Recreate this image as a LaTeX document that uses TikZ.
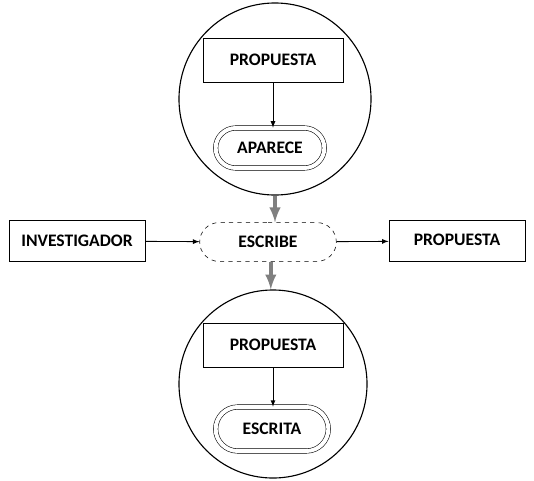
\documentclass[tikz,border=0pt]{standalone}
\usepackage{fontspec}
\setmainfont{Carlito}
\usetikzlibrary{positioning, arrows, shapes.misc}

\begin{document}
\begin{tikzpicture}[x=0.025cm, y=-0.025cm]
\tikzstyle{circ}=[circle, thick, draw=black, inner sep=0pt]
\tikzstyle{sqr}=[rectangle, draw=black, semithick, minimum width=3.5cm, minimum height=1.1cm, font=\fontsize{12.5}{14}\selectfont\bfseries]
\tikzstyle{stad}=[rounded rectangle, draw=black, double, double distance=2.8pt, minimum width=2.95cm, minimum height=1.0cm, font=\fontsize{12.5}{14}\selectfont\bfseries]
\tikzstyle{proc}=[rounded rectangle, draw=black, dashed, minimum width=3.65cm, minimum height=0.97cm, font=\fontsize{12.5}{14}\selectfont\bfseries]
\tikzstyle{connect}=[-latex, semithick]
\tikzstyle{flow}=[-latex, line width=2.6pt, draw=black!50]
\useasboundingbox (0,0) rectangle (534,481);
% 1. Circles
%%%%%%%%%%%
\node[circ, minimum size=4.8cm] (topc) at (275,99) {};
\node[circ, minimum size=4.7cm] (botc) at (273,384) {};
% 2. Nodes
%%%%%%%%%%
\node[sqr] (prop1) at (273,60) {PROPUESTA};
\node[stad] (aparece) at (270,148) {APARECE};
\node[proc] (escribe) at (268,242) {ESCRIBE};
\node[sqr, minimum width=3.4cm, minimum height=1.02cm] (invest) at (77,241) {INVESTIGADOR};
\node[sqr, minimum width=3.4cm, minimum height=1.02cm] (prop2) at (457,241) {\raisebox{2pt}{PROPUESTA}};
\node[sqr] (prop3) at (273,345) {PROPUESTA};
\node[stad, minimum width=3.05cm, minimum height=1.1cm] (escrita) at (272,429) {ESCRITA};
% 3. Arrows
%%%%%%%%%%%
\draw[connect] (prop1.south) -- (prop1.south |- aparece.north);
\draw[connect] (prop3.south) -- (prop3.south |- escrita.north);
\path (invest)  edge [connect] (escribe)
      (escribe) edge [connect] (prop2);
\draw[flow] (topc.south) -- (topc.south |- escribe.north);
\draw[flow] ([xshift=2pt]escribe.south) -- ([xshift=2pt]escribe.south |- botc.north);

\end{tikzpicture}
\end{document}
